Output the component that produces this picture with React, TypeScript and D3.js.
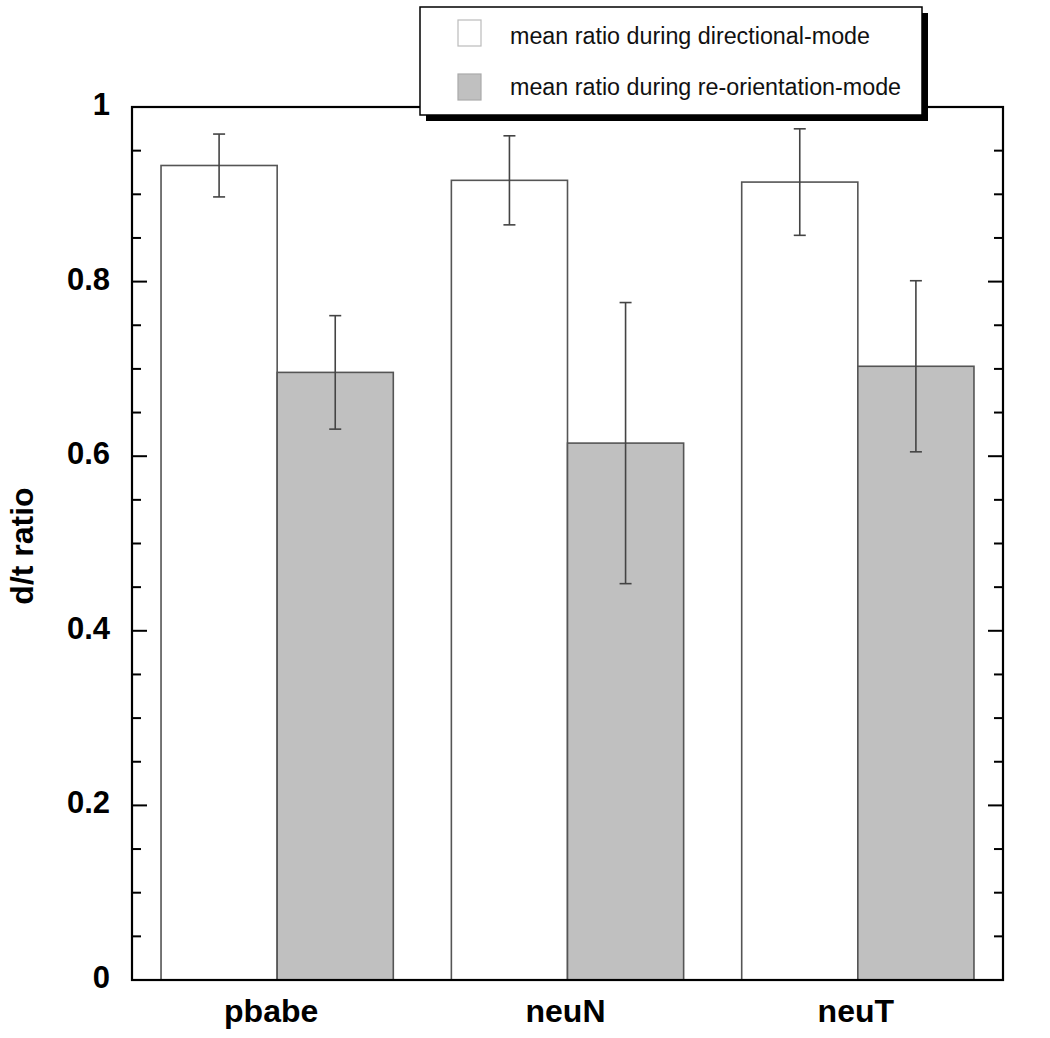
import React from "react";
import * as d3 from "d3";

const categories = ["pbabe", "neuN", "neuT"];
const directionalMean = [0.933, 0.916, 0.914];
const directionalErr = [0.036, 0.051, 0.061];
const reorientMean = [0.696, 0.615, 0.703];
const reorientErr = [0.065, 0.161, 0.098];
const legendLabels = [
  "mean ratio during directional-mode",
  "mean ratio during re-orientation-mode",
];
const yLabel = "d/t ratio";

const W = 1050;
const H = 1038;
const left = 132;
const right = 1003;
const top = 107;
const bottom = 980;

export default function App() {
  const x = d3.scaleLinear().domain([0.5, 3.5]).range([left, right]);
  const y = d3.scaleLinear().domain([0, 1]).range([bottom, top]);
  const barW = x(0.4) - x(0);
  const majors = y.ticks(5);
  const minors = y.ticks(20);
  const fmt = d3.format("");
  const font = "'Liberation Sans', Arial, Helvetica, sans-serif";
  const barStroke = "#555";
  const errStroke = "#444";
  const cap = 6;

  const series = [
    { mean: directionalMean, err: directionalErr, fill: "#ffffff", offset: -1 },
    { mean: reorientMean, err: reorientErr, fill: "#c0c0c0", offset: 0 },
  ];

  return (
    <svg
      width={W}
      height={H}
      style={{ position: "absolute", left: 0, top: 0, background: "#fff" }}
      fontFamily={font}
    >
      {/* bars */}
      {series.map((s, si) =>
        categories.map((c, i) => {
          const cx = x(i + 1);
          const x0 = cx + s.offset * barW;
          return (
            <rect
              key={`b${si}-${i}`}
              x={x0}
              y={y(s.mean[i])}
              width={barW}
              height={y(0) - y(s.mean[i])}
              fill={s.fill}
              stroke={barStroke}
              strokeWidth={1.6}
            />
          );
        })
      )}
      {/* error bars */}
      {series.map((s, si) =>
        categories.map((c, i) => {
          const cx = x(i + 1) + s.offset * barW + barW / 2;
          const hi = y(s.mean[i] + s.err[i]);
          const lo = y(s.mean[i] - s.err[i]);
          return (
            <g key={`e${si}-${i}`} stroke={errStroke} strokeWidth={1.6}>
              <line x1={cx} x2={cx} y1={hi} y2={lo} />
              <line x1={cx - cap} x2={cx + cap} y1={hi} y2={hi} />
              <line x1={cx - cap} x2={cx + cap} y1={lo} y2={lo} />
            </g>
          );
        })
      )}
      {/* frame */}
      <rect
        x={left}
        y={top}
        width={right - left}
        height={bottom - top}
        fill="none"
        stroke="#000"
        strokeWidth={2.2}
      />
      {/* ticks */}
      {minors.map((t) => {
        const isMajor = majors.some((m) => Math.abs(m - t) < 1e-9);
        const len = isMajor ? 15 : 9;
        return (
          <g key={`t${t}`} stroke="#000" strokeWidth={2}>
            <line x1={left} x2={left + len} y1={y(t)} y2={y(t)} />
            <line x1={right} x2={right - len} y1={y(t)} y2={y(t)} />
          </g>
        );
      })}
      {majors.map((t) => (
        <text
          key={`l${t}`}
          x={110}
          y={y(t) + 8}
          textAnchor="end"
          fontSize={31}
          fontWeight="bold"
          fill="#000"
        >
          {fmt(t)}
        </text>
      ))}
      {categories.map((c, i) => (
        <text
          key={`c${c}`}
          x={x(i + 1) - (i === 0 ? 6 : 2)}
          y={1022}
          textAnchor="middle"
          fontSize={32}
          fontWeight="bold"
          fill="#000"
        >
          {c}
        </text>
      ))}
      <text
        transform={`translate(33,546) rotate(-90)`}
        textAnchor="middle"
        fontSize={32}
        fontWeight="bold"
        fill="#000"
      >
        {yLabel}
      </text>
      {/* legend */}
      <rect x={426} y={13} width={502} height={108} fill="#000" />
      <rect
        x={420}
        y={7}
        width={502}
        height={108}
        fill="#fff"
        stroke="#000"
        strokeWidth={1.5}
      />
      {legendLabels.map((l, i) => (
        <g key={`lg${i}`}>
          <rect
            x={458}
            y={20 + i * 54}
            width={23}
            height={26}
            fill={series[i].fill}
            stroke={i === 0 ? "#bbb" : "#aaa"}
            strokeWidth={1.2}
          />
          <text x={510} y={44 + i * 51} fontSize={23.3} fill="#111">
            {l}
          </text>
        </g>
      ))}
    </svg>
  );
}
